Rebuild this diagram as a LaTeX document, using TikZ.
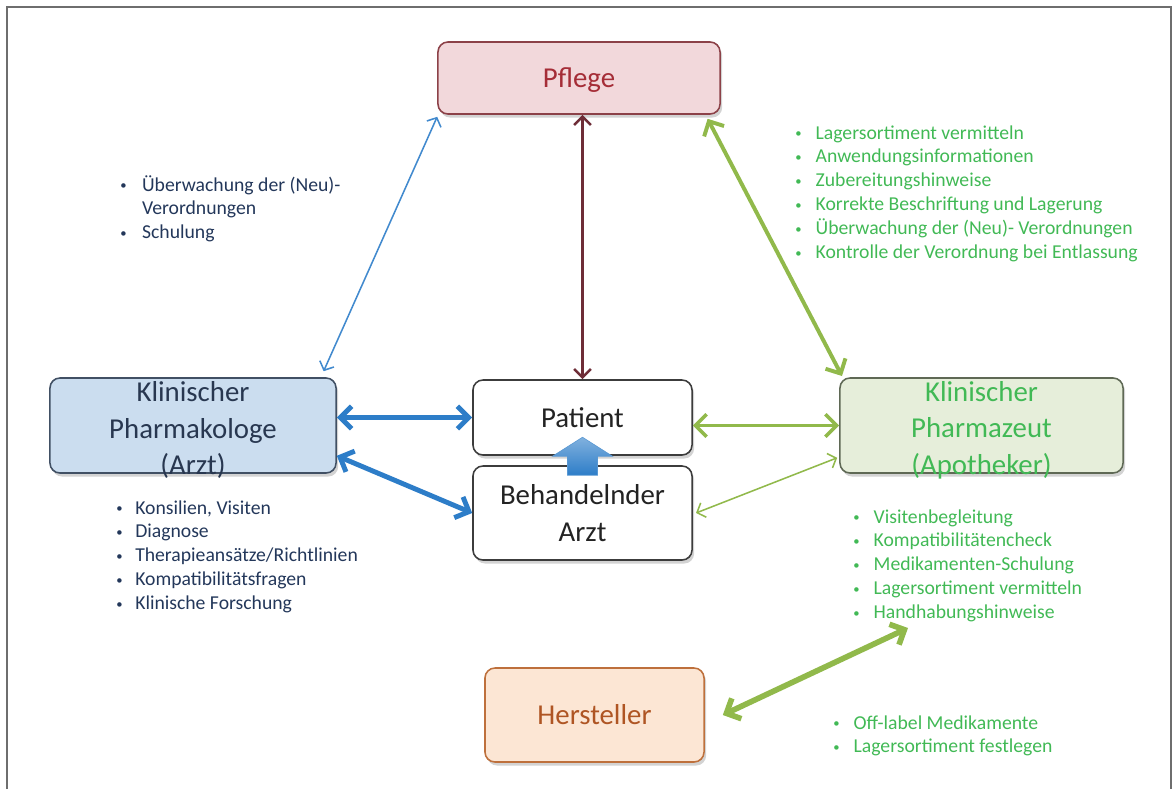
\documentclass[tikz,border=0pt]{standalone}
\usepackage{fontspec}
\setmainfont{Carlito}
\usepackage{tikz}
\usetikzlibrary{positioning, calc, arrows.meta, shadows}

\definecolor{pflegefill}{RGB}{242,216,219}
\definecolor{pflegeline}{RGB}{140,65,72}
\definecolor{pflegetext}{RGB}{165,45,55}
\definecolor{pharmfill}{RGB}{203,221,239}
\definecolor{pharmline}{RGB}{65,80,100}
\definecolor{pharmtext}{RGB}{40,55,80}
\definecolor{apofill}{RGB}{230,238,218}
\definecolor{apoline}{RGB}{95,105,85}
\definecolor{apotext}{RGB}{65,185,85}
\definecolor{herstfill}{RGB}{252,230,212}
\definecolor{herstline}{RGB}{190,112,60}
\definecolor{hersttext}{RGB}{175,85,35}
\definecolor{boxline}{RGB}{60,60,60}
\definecolor{boxtext}{RGB}{35,35,35}
\definecolor{bluearr}{RGB}{45,125,200}
\definecolor{greenarr}{RGB}{145,185,75}
\definecolor{redarr}{RGB}{110,45,55}
\definecolor{bluetext}{RGB}{35,55,90}
\definecolor{framegray}{RGB}{110,110,110}

\tikzset{boxfont/.style = {font=\fontsize{20.5}{26}\selectfont}}
\newcommand{\bul}{\raisebox{0.9pt}{\fontsize{9}{9}\selectfont\textbullet}}

\begin{document}
\begin{tikzpicture}[x=0.025cm, y=-0.025cm,
  box/.style = {draw, rounded corners=0.25cm, line width=1.1pt, minimum width=5.475cm, minimum height=2.35cm, boxfont,
                drop shadow={shadow xshift=1.5pt, shadow yshift=-2.5pt, opacity=0.35}},
  blist/.style = {anchor=base west, inner sep=0pt, font=\fontsize{14}{17}\selectfont},
  thinarr/.style = {line width=1.1pt, {Straight Barb[length=5pt,width=11pt]}-{Straight Barb[length=5pt,width=11pt]}},
  thickarr/.style = {line width=#1, {Straight Barb[length=8pt,width=16pt]}-{Straight Barb[length=8pt,width=16pt]}}
]
\useasboundingbox (0,0) rectangle (1176,789);

% frame
\draw[framegray, line width=1.5pt] (7,789) -- (7,7) -- (1171,7) -- (1171,789);

% Pflege
\node[box, fill=pflegefill, draw=pflegeline, text=pflegetext, minimum width=7.05cm, minimum height=1.8cm,
      text height=0.62cm] (pflege) at (579,78) {Pflege};

% Klinischer Pharmakologe
\node[box, fill=pharmfill, draw=pharmline, minimum width=7.15cm, minimum height=2.375cm,
      label={[boxfont, text=pharmtext, align=center, yshift=-0.12cm]center:Klinischer\\Pharmakologe\\(Arzt)}] (pharmakologe) at (193,425.5) {};

% Patient + Behandelnder Arzt
\node[box, fill=white, draw=boxline, text=boxtext, minimum height=1.875cm] (patient) at (582.5,417.5) {Patient};
\node[box, fill=white, draw=boxline, text=boxtext, align=center] (arzt) at (582.5,513) {Behandelnder\\Arzt};

% Klinischer Pharmazeut
\node[box, fill=apofill, draw=apoline, minimum width=7.075cm, minimum height=2.375cm,
      label={[boxfont, text=apotext, align=center, yshift=-0.12cm]center:Klinischer\\Pharmazeut\\(Apotheker)}] (pharmazeut) at (981.5,425.5) {};

% Hersteller
\node[box, fill=herstfill, draw=herstline, text=hersttext] (hersteller) at (594.5,715) {Hersteller};

%--- Arzt -> Patient (block arrow)
\shade[top color=bluearr!60, bottom color=bluearr, draw=bluearr!80, line width=0.4pt]
  ($(arzt.north)+(-15,10)$) -- ($(arzt.north)+(-15,-9)$) -- ($(arzt.north)+(-30,-9)$)
  -- ($(arzt.north)+(0,-28)$) -- ($(arzt.north)+(30,-9)$) -- ($(arzt.north)+(15,-9)$)
  -- ($(arzt.north)+(15,10)$) -- cycle;

%--- Pflege <-> Pharmakologe
\draw[thinarr, bluearr!90!white] ([yshift=-0.05cm]pflege.south west) -- ([xshift=-0.33cm, yshift=0.15cm]pharmakologe.north east);

%--- Pflege <-> Patient
\draw[redarr, line width=1.8pt, {Straight Barb[length=6pt,width=12pt]}-{Straight Barb[length=6pt,width=12pt]}]
  (patient.north |- pflege.south) -- (patient.north);

%--- Pflege <-> Pharmazeut
\draw[thickarr=2.8pt, greenarr] ([xshift=-0.33cm, yshift=-0.1cm]pflege.south east) -- ([xshift=0.07cm, yshift=0.03cm]pharmazeut.north west);

%--- Pharmakologe <-> Patient, Arzt
\draw[thickarr=3.5pt, bluearr] (pharmakologe.east |- patient.west) -- (patient.west);
\draw[thickarr=3.5pt, bluearr] ([yshift=0.45cm]pharmakologe.south east) -- (arzt.west);

%--- Patient, Arzt <-> Pharmazeut
\draw[thickarr=2.5pt, greenarr] (patient.east |- pharmazeut.west) -- (pharmazeut.west);
\draw[thinarr, greenarr] ([xshift=0.08cm]arzt.east) -- ([xshift=-0.05cm, yshift=0.4cm]pharmazeut.south west);

%--- Hersteller <-> Pharmazeut list
\coordinate (herstend) at (908,628);
\draw[thickarr=4pt, greenarr] ([xshift=0.45cm]hersteller.east) -- (herstend);

% bullet lists
\node[blist, text=bluetext] (listpflege) at (120,191) {\begin{tabular}[t]{@{}p{15.5pt}@{}l@{}}
  \bul & Überwachung der (Neu)-\\
       & Verordnungen\\
  \bul & Schulung
\end{tabular}};

\node[blist, text=apotext] (listapopflege) at (795,139) {\begin{tabular}[t]{@{}p{14.5pt}@{}l@{}}
  \bul & Lagersortiment vermitteln\\
  \bul & Anwendungsinformationen\\
  \bul & Zubereitungshinweise\\
  \bul & Korrekte Beschriftung und Lagerung\\
  \bul & Überwachung der (Neu)- Verordnungen\\
  \bul & Kontrolle der Verordnung bei Entlassung
\end{tabular}};

\node[blist, text=bluetext] (listpharm) at (116,514) {\begin{tabular}[t]{@{}p{13.5pt}@{}l@{}}
  \bul & Konsilien, Visiten\\
  \bul & Diagnose\\
  \bul & Therapieansätze/Richtlinien\\
  \bul & Kompatibilitätsfragen\\
  \bul & Klinische Forschung
\end{tabular}};

\node[blist, text=apotext] (listapo) at (853,523) {\begin{tabular}[t]{@{}p{14.5pt}@{}l@{}}
  \bul & Visitenbegleitung\\
  \bul & Kompatibilitätencheck\\
  \bul & Medikamenten-Schulung\\
  \bul & Lagersortiment vermitteln\\
  \bul & Handhabungshinweise
\end{tabular}};

\node[blist, text=apotext] (listherst) at (833,729) {\begin{tabular}[t]{@{}p{14.5pt}@{}l@{}}
  \bul & Off-label Medikamente\\
  \bul & Lagersortiment festlegen
\end{tabular}};

\end{tikzpicture}
\end{document}
